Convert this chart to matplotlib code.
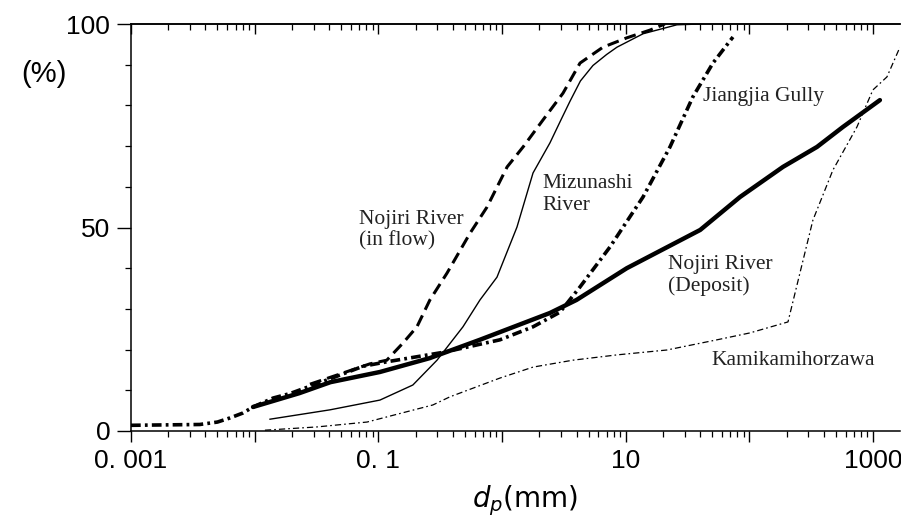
import numpy as np
import matplotlib
matplotlib.use("Agg")
import matplotlib.pyplot as plt
from matplotlib.ticker import FixedLocator, FixedFormatter, NullFormatter

plt.rcParams['lines.scale_dashes'] = False
plt.rcParams['mathtext.fontset'] = 'dejavusans'

# ---- data (grain size d_p in mm, cumulative percent finer) ----
deposit_x = [0.0097, 0.023, 0.041, 0.103, 0.26, 0.66, 2.44, 4.0, 10.2, 40, 84, 187, 352, 570, 1135]
deposit_y = [5.9, 9.3, 12.0, 14.5, 17.9, 22.4, 29.0, 32.2, 40.0, 49.4, 57.5, 64.9, 69.8, 74.7, 81.3]

jiangjia_x = [0.001, 0.0036, 0.005, 0.0063, 0.008, 0.0097, 0.0141, 0.0193, 0.0406, 0.075, 0.117,
              0.345, 0.96, 1.78, 2.94, 4.27, 7.45, 13.8, 22.8, 34.9, 50.7, 73.6]
jiangjia_y = [1.4, 1.6, 2.2, 3.2, 4.4, 5.9, 8.1, 9.2, 12.8, 15.9, 17.0,
              19.4, 22.4, 25.6, 29.2, 35.4, 45.2, 57.5, 69.8, 82.1, 90.4, 96.8]

inflow_x = [0.028, 0.049, 0.0855, 0.117, 0.158, 0.205, 0.261, 0.359, 0.551, 0.755, 1.10, 1.48,
            2.14, 3.11, 4.27, 6.54, 10.2, 15.7, 20.7]
inflow_y = [11.5, 14.0, 16.5, 17.4, 21.6, 25.6, 32.2, 38.8, 48.6, 55.0, 64.9, 69.8,
            76.4, 83.0, 90.4, 94.3, 96.6, 98.5, 100.0]

mizunashi_x = [0.0133, 0.0406, 0.103, 0.19, 0.298, 0.483, 0.663, 0.91, 1.32, 1.78, 2.44, 3.0, 3.54,
               4.3, 5.43, 7.0, 8.49, 13.8, 25.9, 40]
mizunashi_y = [2.9, 5.2, 7.6, 11.3, 17.4, 25.6, 32.2, 37.8, 50.1, 63.4, 70.8, 76.5, 81.0,
               86.0, 89.8, 92.5, 94.3, 97.6, 99.8, 100.0]

kamikami_x = [0.0121, 0.0319, 0.081, 0.276, 0.379, 0.96, 1.78, 3.74, 8.49, 21.5, 54.6, 101,
              205, 256, 326, 473, 740, 996, 1294, 1648]
kamikami_y = [0.2, 1.0, 2.2, 6.4, 8.4, 13.0, 15.7, 17.4, 18.7, 19.9, 22.4, 24.1,
              26.8, 38.8, 51.8, 64.1, 74.7, 83.8, 87.0, 94.3]

x_major = [0.001, 0.01, 0.1, 1, 10, 100, 1000]
x_major_labels = ["0. 001", "", "0. 1", "", "10", "", "1000"]
y_major = [0, 50, 100]
y_minor = [10, 20, 30, 40, 60, 70, 80, 90]

# ---- figure ----
W, H = 901, 523
fig = plt.figure(figsize=(W / 100, H / 100), dpi=100)
ax = fig.add_axes([131 / W, (H - 431) / H, (900 - 131) / W, (431 - 24) / H])

ax.plot(kamikami_x, kamikami_y, color='black', lw=0.9, linestyle=(0, (4.5, 2.2, 1.2, 2.2)))
ax.plot(mizunashi_x, mizunashi_y, color='black', lw=1.0, linestyle='-')
ax.plot(inflow_x, inflow_y, color='black', lw=2.2, linestyle=(0, (8.5, 4.5)))
ax.plot(jiangjia_x, jiangjia_y, color='black', lw=2.6, linestyle=(0, (7, 3, 2, 3)))
ax.plot(deposit_x, deposit_y, color='black', lw=3.2, linestyle='-', solid_capstyle='round')

ax.set_xscale('log')
ax.set_xlim(0.001, 1650)
ax.set_ylim(0, 100)

ax.spines['right'].set_visible(False)
for s in ['left', 'bottom', 'top']:
    ax.spines[s].set_linewidth(1.1)

minor_x = [m * d for d in x_major for m in range(2, 10)]
ax.xaxis.set_major_locator(FixedLocator(x_major))
ax.xaxis.set_major_formatter(FixedFormatter(x_major_labels))
ax.xaxis.set_minor_locator(FixedLocator(minor_x))
ax.xaxis.set_minor_formatter(NullFormatter())
ax.yaxis.set_major_locator(FixedLocator(y_major))
ax.yaxis.set_minor_locator(FixedLocator(y_minor))

tick_family = ['Liberation Sans', 'DejaVu Sans']
ax.tick_params(axis='x', which='major', direction='out', length=8, width=1.0, pad=5, labelsize=19)
ax.tick_params(axis='x', which='minor', direction='out', length=4, width=0.9)
ax.tick_params(axis='y', which='major', direction='out', length=10, width=1.0, pad=5, labelsize=19)
ax.tick_params(axis='y', which='minor', direction='out', length=4, width=0.9)
for lab in ax.get_xticklabels() + ax.get_yticklabels():
    lab.set_fontfamily(tick_family)

# top axis: ticks pointing down into the plot, no labels
top = ax.secondary_xaxis('top')
top.xaxis.set_major_locator(FixedLocator(x_major))
top.xaxis.set_minor_locator(FixedLocator(minor_x))
top.xaxis.set_major_formatter(NullFormatter())
top.xaxis.set_minor_formatter(NullFormatter())
top.tick_params(which='major', direction='in', length=7, width=1.0)
top.tick_params(which='minor', direction='in', length=4, width=0.9)
top.spines['top'].set_linewidth(1.1)

# curve labels
serif = ['Liberation Serif', 'DejaVu Serif']
lbl = dict(fontsize=15.5, family=serif, color='#222222', ha='left', va='center', linespacing=1.15)
ax.text(0.0697, 49.3, "Nojiri River\n(in flow)", **lbl)
ax.text(2.14, 58.1, "Mizunashi\nRiver", **lbl)
ax.text(42.1, 82.1, "Jiangjia Gully", **lbl)
ax.text(21.9, 38.2, "Nojiri River\n(Deposit)", **lbl)
ax.text(49.6, 17.4, "Kamikamihorzawa", **lbl)

fig.text(44 / W, 1 - 74 / H, "(%)", ha='center', va='center', fontsize=21,
         family=['Liberation Sans', 'DejaVu Sans'])
fig.text(525 / W, 1 - 501 / H, r"$d_p$(mm)", ha='center', va='center', fontsize=20,
         family='DejaVu Sans')

fig.savefig("out.png", dpi=100)
